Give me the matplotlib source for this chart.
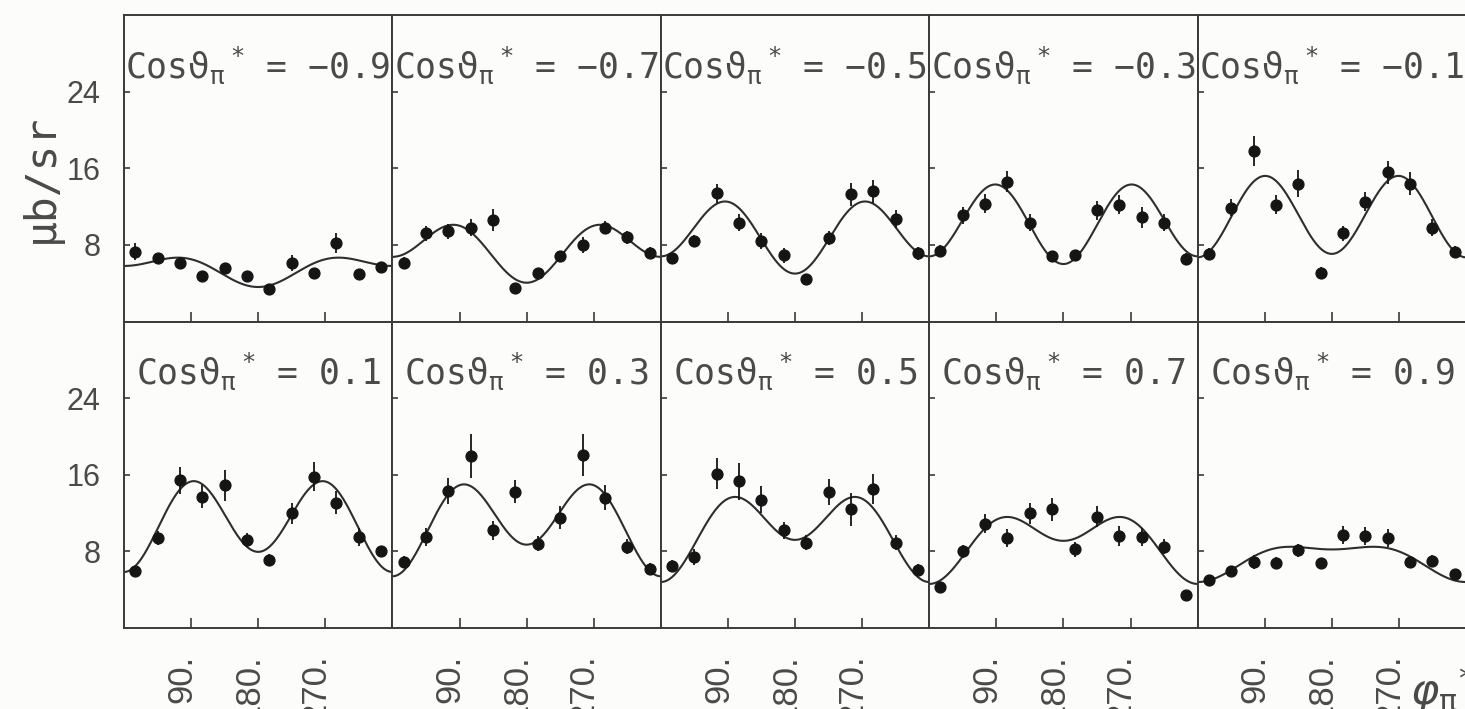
import numpy as np
import matplotlib
matplotlib.use("Agg")
import matplotlib.pyplot as plt

# azimuthal bins (degrees)
phi = [15, 45, 75, 105, 135, 165, 195, 225, 255, 285, 315, 345]

cos_theta_labels = ["\u22120.9", "\u22120.7", "\u22120.5", "\u22120.3", "\u22120.1",
                    "0.1", "0.3", "0.5", "0.7", "0.9"]

# measured cross sections (mub/sr), one list per cos(theta) bin
xs_m09 = [7.3, 6.6, 6.1, 4.8, 5.6, 4.7, 3.4, 6.1, 5.1, 8.2, 5.0, 5.7]
xs_m07 = [6.1, 9.2, 9.4, 9.8, 10.6, 3.5, 5.1, 6.8, 8.0, 9.8, 8.8, 7.2]
xs_m05 = [6.6, 8.4, 13.4, 10.3, 8.4, 6.9, 4.4, 8.7, 13.3, 13.6, 10.7, 7.1]
xs_m03 = [7.4, 11.1, 12.3, 14.6, 10.3, 6.8, 6.9, 11.6, 12.2, 10.9, 10.3, 6.5]
xs_m01 = [7.05, 11.9, 17.8, 12.2, 14.4, 5.1, 9.2, 12.5, 15.6, 14.4, 9.8, 7.3]
xs_p01 = [5.9, 9.4, 15.4, 13.7, 14.9, 9.2, 7.1, 12.0, 15.8, 13.1, 9.5, 8.0]
xs_p03 = [6.9, 9.5, 14.3, 18.0, 10.2, 14.2, 8.8, 11.5, 18.1, 13.6, 8.5, 6.2]
xs_p05 = [6.5, 7.4, 16.1, 15.3, 13.4, 10.2, 8.9, 14.2, 12.4, 14.5, 8.9, 6.1]
xs_p07 = [4.3, 8.0, 10.9, 9.4, 12.0, 12.4, 8.2, 11.6, 9.6, 9.5, 8.5, 3.4]
xs_p09 = [5.0, 6.0, 6.9, 6.8, 8.1, 6.75, 9.7, 9.6, 9.4, 6.9, 7.0, 5.6]

# statistical errors
err_m09 = [0.9, 0.6, 0.6, 0.5, 0.5, 0.6, 0.5, 0.8, 0.5, 1.0, 0.5, 0.5]
err_m07 = [0.6, 0.8, 0.8, 0.9, 1.1, 0.5, 0.5, 0.6, 0.8, 0.7, 0.7, 0.6]
err_m05 = [0.6, 0.6, 1.0, 0.9, 0.8, 0.8, 0.6, 0.7, 1.2, 1.2, 0.9, 0.7]
err_m03 = [0.6, 0.9, 1.0, 1.1, 0.9, 0.6, 0.6, 1.0, 1.0, 1.1, 0.9, 0.6]
err_m01 = [0.6, 0.9, 1.6, 1.0, 1.4, 0.6, 0.8, 1.0, 1.2, 1.2, 0.9, 0.6]
err_p01 = [0.5, 0.7, 1.4, 1.2, 1.6, 0.7, 0.6, 1.1, 1.5, 1.2, 0.9, 0.6]
err_p03 = [0.6, 0.9, 1.4, 2.3, 1.0, 1.2, 0.8, 1.2, 2.2, 1.3, 0.8, 0.6]
err_p05 = [0.6, 0.8, 1.6, 1.9, 1.4, 0.9, 0.8, 1.4, 1.7, 1.6, 0.8, 0.6]
err_p07 = [0.4, 0.7, 1.0, 0.9, 1.1, 1.2, 0.8, 1.1, 1.0, 0.9, 0.8, 0.4]
err_p09 = [0.5, 0.5, 0.7, 0.6, 0.7, 0.5, 0.9, 0.9, 0.9, 0.5, 0.6, 0.5]

# fitted structure functions: sigma0 + sigma_LT cos(phi) + sigma_TT cos(2 phi)
fit_sigma0 = [5.6, 7.7, 9.2, 10.35, 11.04, 11.1, 10.98, 10.25, 9.08, 7.25]
fit_sigma_lt = [1.1, 1.35, 0.9, 0.4, -0.18, -1.05, -1.65, -2.2, -2.25, -1.7]
fit_sigma_tt = [-0.9, -2.3, -3.3, -3.95, -4.16, -4.2, -3.93, -3.25, -2.23, -0.75]

xs_all = [xs_m09, xs_m07, xs_m05, xs_m03, xs_m01, xs_p01, xs_p03, xs_p05, xs_p07, xs_p09]
err_all = [err_m09, err_m07, err_m05, err_m03, err_m01,
           err_p01, err_p03, err_p05, err_p07, err_p09]

x_ticks = [90, 180, 270]
x_tick_labels = ["90.", "180.", "270."]
y_ticks = [8, 16, 24]
y_tick_labels = ["8", "16", "24"]

plt.rcParams["font.family"] = ["Liberation Sans", "DejaVu Sans"]
plt.rcParams["mathtext.fontset"] = "dejavusans"

MONO = ["DejaVu Sans Mono", "DejaVu Sans"]
TXT = "#4a4a4a"
INK = "#151515"
BG = "#fcfcfa"
W, H = 1465, 709

fig, axes = plt.subplots(2, 5, figsize=(W / 100, H / 100), dpi=100,
                         sharex=True, sharey=True, facecolor=BG)
fig.subplots_adjust(left=124 / W, right=1466 / W, top=1 - 15 / H,
                    bottom=1 - 628 / H, wspace=0, hspace=0)

phi_fine = np.linspace(0, 360, 721)
phi_rad = np.radians(phi_fine)

for k, ax in enumerate(axes.flat):
    ax.set_facecolor(BG)
    curve = (fit_sigma0[k] + fit_sigma_lt[k] * np.cos(phi_rad)
             + fit_sigma_tt[k] * np.cos(2 * phi_rad))
    ax.plot(phi_fine, curve, color="#2e2e2e", lw=1.5, zorder=2)
    ax.errorbar(phi, xs_all[k], yerr=err_all[k], fmt="o", ms=7.8,
                color=INK, ecolor=INK, elinewidth=1.3, capsize=0, zorder=3)

    ax.set_xlim(0, 360)
    ax.set_ylim(0, 32)
    ax.set_xticks(x_ticks)
    ax.set_yticks(y_ticks)
    for sp in ax.spines.values():
        sp.set_linewidth(1.4)
        sp.set_color("#3a3a3a")
    ax.tick_params(axis="x", direction="in", length=7, width=1.2,
                   color="#3a3a3a", labelsize=25, labelcolor=TXT, pad=19)
    ax.tick_params(axis="y", direction="in", length=4, width=1.2,
                   color="#3a3a3a", labelsize=22, labelcolor=TXT, pad=17)

    ax.text(0.5, 0.795,
            "Cos$\\mathrm{\\vartheta}_{\\mathrm{\\pi}}\\,{}^{*}$ = "
            + cos_theta_labels[k],
            transform=ax.transAxes, ha="center", va="baseline",
            fontsize=25, family=MONO, color=TXT, zorder=4)

for ax in axes[:, 0]:
    ax.set_yticklabels(y_tick_labels)

for ax in axes[1, :]:
    ax.set_xticklabels(x_tick_labels, rotation=90, rotation_mode="anchor",
                       ha="right", va="baseline")

fig.text(41 / W, 1 - 178 / H, "\u03bcb/sr", rotation=90, ha="center",
         va="center", fontsize=31, family=MONO, color=TXT)
fig.text(1410 / W, 1 - 705 / H, "$\\varphi_{\\mathrm{\\pi}}{}^{*}$", ha="left",
         va="baseline", fontsize=31, color=TXT)

fig.savefig("out.png", dpi=100, facecolor=BG)
